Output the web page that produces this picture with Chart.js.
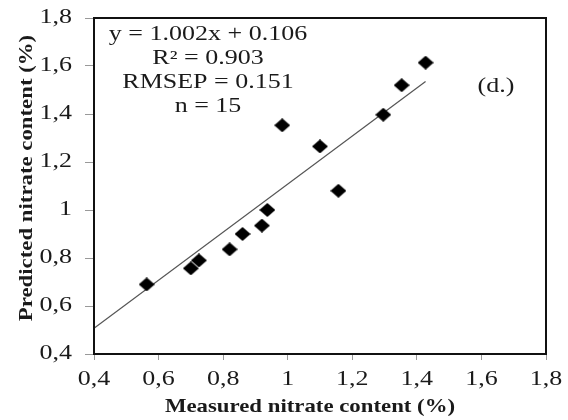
<!DOCTYPE html>
<html>
<head>
<meta charset="utf-8">
<script src="https://cdn.jsdelivr.net/npm/chart.js@4/dist/chart.umd.min.js"></script>
<style>
  html, body { margin: 0; padding: 0; background: #fff; }
  #wrap { width: 568px; height: 420px; }
</style>
</head>
<body>
<div id="wrap"><canvas id="nitrate-chart" width="568" height="420"></canvas></div>
<script>
  // measured vs predicted nitrate content (%)
  const measured = [0.563, 0.70, 0.725, 0.82, 0.86, 0.92, 0.937, 0.983, 1.10, 1.157, 1.296, 1.353, 1.427];
  const predicted = [0.69, 0.757, 0.79, 0.836, 0.90, 0.935, 1.0, 1.353, 1.265, 1.08, 1.397, 1.52, 1.614];

  // regression y = slope * x + intercept, drawn from x = 0.4 to the largest measured value
  const slope = 1.002;
  const intercept = 0.106;
  const fitRange = [0.4, Math.max(...measured)];

  const tickValues = [0.4, 0.6, 0.8, 1.0, 1.2, 1.4, 1.6, 1.8];
  const statLines = ['y = 1.002x + 0.106', 'R² = 0.903', 'RMSEP = 0.151', 'n = 15'];
  const panelLabel = '(d.)';
  const xTitle = 'Measured nitrate content (%)';
  const yTitle = 'Predicted nitrate content (%)';

  const serif = "'Liberation Serif', 'Times New Roman', serif";
  const textColor = '#1a1a1a';

  // flattened black diamond marker
  const diamond = document.createElement('canvas');
  diamond.width = 16;
  diamond.height = 14;
  const dctx = diamond.getContext('2d');
  dctx.fillStyle = '#000';
  dctx.beginPath();
  dctx.moveTo(8, 0);
  dctx.lineTo(16, 7);
  dctx.lineTo(8, 14);
  dctx.lineTo(0, 7);
  dctx.closePath();
  dctx.fill();

  const commaTick = (v) => String(Math.round(v * 10) / 10).replace('.', ',');

  // text is set a little wider than the font's natural width
  const wideText = (ctx, text, x, y, sx, align, angle) => {
    ctx.save();
    ctx.translate(x, y);
    if (angle) ctx.rotate(angle);
    ctx.scale(sx, 1);
    ctx.textAlign = align;
    ctx.fillText(text, 0, 0);
    ctx.restore();
  };

  const textPlugin = {
    id: 'chartText',
    afterDraw(chart) {
      const { ctx, chartArea } = chart;
      const xs = chart.scales.x;
      const ys = chart.scales.y;
      ctx.save();
      // frame around the plot area
      ctx.strokeStyle = '#111';
      ctx.lineWidth = 2;
      ctx.strokeRect(chartArea.left, chartArea.top, chartArea.right - chartArea.left, chartArea.bottom - chartArea.top);

      ctx.fillStyle = textColor;
      ctx.textBaseline = 'middle';

      // tick labels placed through the scales
      ctx.font = `20px ${serif}`;
      tickValues.forEach(v => {
        wideText(ctx, commaTick(v), xs.getPixelForValue(v), chartArea.bottom + 26, 1.3, 'center');
        wideText(ctx, commaTick(v), chartArea.left - 22, ys.getPixelForValue(v), 1.3, 'right');
      });

      const statY = [35, 59, 83, 107];
      statLines.forEach((t, i) => wideText(ctx, t, 208, statY[i], 1.3, 'center'));
      wideText(ctx, panelLabel, 496, 87, 1.3, 'center');

      ctx.font = `bold 19px ${serif}`;
      wideText(ctx, xTitle, 310, 407, 1.2, 'center');
      wideText(ctx, yTitle, 27, 178, 1.2, 'center', -Math.PI / 2);
      ctx.restore();
    }
  };

  new Chart(document.getElementById('nitrate-chart'), {
    type: 'scatter',
    data: {
      datasets: [
        {
          type: 'line',
          data: fitRange.map(x => ({ x: x, y: slope * x + intercept })),
          borderColor: '#555',
          borderWidth: 1.2,
          pointRadius: 0,
          fill: false,
          order: 2
        },
        {
          data: measured.map((x, i) => ({ x: x, y: predicted[i] })),
          pointStyle: diamond,
          pointRadius: 8,
          backgroundColor: '#000',
          borderColor: '#000',
          order: 1
        }
      ]
    },
    options: {
      responsive: false,
      animation: false,
      layout: {
        padding: { top: 18, right: 22, left: 0, bottom: 0 }
      },
      scales: {
        x: {
          type: 'linear',
          min: 0.4,
          max: 1.8,
          afterFit: (scale) => { scale.height = 66; },
          afterBuildTicks: (scale) => { scale.ticks = tickValues.map(v => ({ value: v })); },
          ticks: { display: false },
          grid: { drawOnChartArea: false, drawTicks: true, tickLength: 6, color: '#999' },
          border: { display: true, color: '#111', width: 2 }
        },
        y: {
          type: 'linear',
          min: 0.4,
          max: 1.8,
          afterFit: (scale) => { scale.width = 94; },
          afterBuildTicks: (scale) => { scale.ticks = tickValues.map(v => ({ value: v })); },
          ticks: { display: false },
          grid: { drawOnChartArea: false, drawTicks: true, tickLength: 9, color: '#999' },
          border: { display: true, color: '#111', width: 2 }
        }
      },
      plugins: {
        legend: { display: false },
        tooltip: { enabled: false }
      }
    },
    plugins: [textPlugin]
  });
</script>
</body>
</html>
